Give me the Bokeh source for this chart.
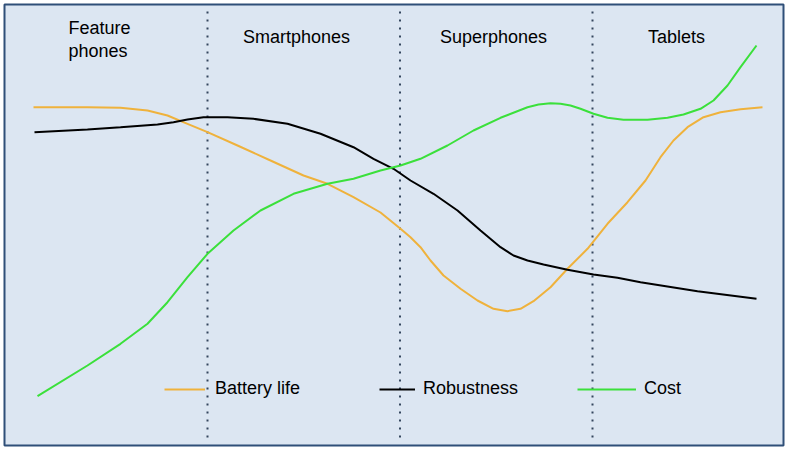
from bokeh.plotting import figure
from bokeh.models import Range1d, Legend, LegendItem
from bokeh.core.properties import value
from bokeh.embed import file_html
from bokeh.resources import INLINE

# (x: horizontal position, y: vertical position, top = low)
battery_x = [33, 87, 120, 147, 167, 187, 207, 237, 270, 303, 327, 353, 380, 400, 410, 420, 430, 443, 460, 477, 493, 507, 520, 533, 550, 567, 587, 607, 627, 645, 660, 673, 687, 703, 720, 740, 762]
battery_y = [106.7, 106.7, 107.3, 110, 115, 123.3, 131.7, 145, 160, 175, 183.3, 196.7, 212, 228.3, 236.7, 246.7, 260, 275, 288.3, 300, 308.3, 310.7, 308.3, 300.7, 286.7, 268.3, 248.3, 223.3, 201.7, 180, 156.7, 140, 126.7, 116.7, 111.7, 108.7, 106.7]

robust_x = [34, 87, 120, 157, 173, 187, 203, 227, 253, 287, 320, 353, 373, 393, 410, 433, 457, 480, 500, 513, 527, 543, 567, 593, 617, 640, 697, 756]
robust_y = [131.7, 129, 126.7, 124, 121.7, 119, 116.7, 116.7, 118.3, 123.3, 133.3, 146.7, 158.3, 168.3, 180, 193.3, 210, 230, 246.7, 255, 260, 264, 269.3, 274, 277.3, 281.7, 290.7, 298.3]

cost_x = [37, 87, 120, 147, 167, 187, 207, 233, 260, 293, 327, 353, 380, 400, 420, 447, 473, 500, 527, 538, 550, 560, 570, 580, 593, 607, 623, 647, 667, 683, 700, 713, 727, 740, 756]
cost_y = [395.7, 365, 343.3, 323.3, 301.7, 276.7, 253.3, 230, 210, 193.3, 183.3, 178.3, 170, 165, 158.3, 145, 130, 117.3, 106.7, 104, 102.7, 103.3, 105, 108.3, 113.3, 117.3, 119.3, 119.3, 117.3, 114, 108.3, 100, 85, 66.7, 45]

divider_x = [207, 399.5, 592]
segment_names = ["Feature\nphones", "Smartphones", "Superphones", "Tablets"]
segment_x = [68, 296, 493, 676]
series_names = ["Battery life", "Robustness", "Cost"]
series_colors = ["#efb23c", "#000000", "#3be03b"]

FONT = "Liberation Sans"

p = figure(width=787, height=451, output_backend="svg", toolbar_location=None,
           x_range=Range1d(4, 783), y_range=Range1d(445, 4),
           min_border_left=4, min_border_right=4, min_border_top=4,
           min_border_bottom=6, border_fill_color="white")
p.axis.visible = False
p.grid.visible = False
p.background_fill_color = "#dce6f2"
p.outline_line_color = "#2f4f78"
p.outline_line_width = 2

# dividers
for dx in divider_x:
    p.segment(x0=dx, y0=11, x1=dx, y1=441, line_color="#34465e",
              line_width=2, line_dash="2 6")

r_bat = p.line(battery_x, battery_y, line_color=series_colors[0], line_width=2)
r_rob = p.line(robust_x, robust_y, line_color=series_colors[1], line_width=2)
r_cost = p.line(cost_x, cost_y, line_color=series_colors[2], line_width=2)

# segment labels
p.text(x=[segment_x[0]], y=[17], text=[segment_names[0]], text_font=value(FONT),
       text_font_size="18px", text_align="left", text_baseline="top",
       text_line_height=1.15, text_color="black")
p.text(x=segment_x[1:], y=[36] * 3, text=segment_names[1:], text_font=value(FONT),
       text_font_size="18px", text_align="center", text_baseline="alphabetic",
       text_color="black")

# legends (one per item to mimic the irregular spacing)
leg_specs = [
    (r_bat, series_names[0], 160, 41, 10),
    (r_rob, series_names[1], 375, 36, 8),
    (r_cost, series_names[2], 573, 59, 8),
]
for rend, name, lx, gw, st in leg_specs:
    lg = Legend(items=[LegendItem(label=name, renderers=[rend])],
                location=(lx, 46), orientation="horizontal",
                padding=0, margin=0, spacing=0,
                glyph_width=gw, glyph_height=20, label_height=20,
                label_standoff=st,
                label_text_font=FONT, label_text_font_size="18px",
                label_text_baseline="middle", label_text_color="black",
                border_line_color=None, background_fill_alpha=0)
    p.add_layout(lg, "center")

open("out.html", "w").write(file_html(p, INLINE))
